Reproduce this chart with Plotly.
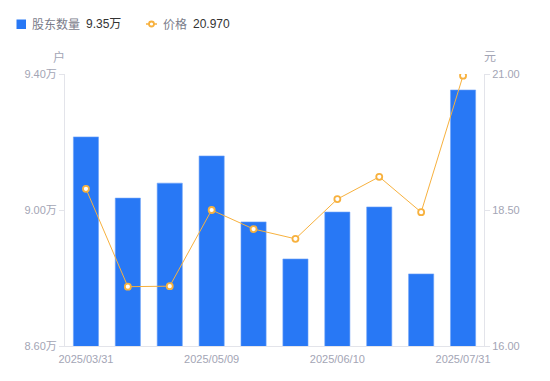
import plotly.graph_objects as go

dates = ["2025/03/31", "2025/04/10", "2025/04/30", "2025/05/09", "2025/05/20",
         "2025/05/30", "2025/06/10", "2025/06/20", "2025/06/30", "2025/07/31"]
holders_wan = [9.215, 9.035, 9.079, 9.159, 8.965, 8.856, 8.994, 9.009, 8.812, 9.353]
price = [18.89, 17.09, 17.10, 18.50, 18.15, 17.97, 18.70, 19.11, 18.46, 20.97]

left_ticks = [8.6, 9.0, 9.4]
left_ticktext = ["8.60万", "9.00万", "9.40万"]
right_ticks = [16.0, 18.5, 21.0]
right_ticktext = ["16.00", "18.50", "21.00"]
xtick_labels = ["2025/03/31", "2025/05/09", "2025/06/10", "2025/07/31"]

BLUE = "#2878f5"
ORANGE = "#f7b13e"
AXIS = "#e3e4ea"
TICKTXT = "#a3a5b5"
FONT = "Liberation Sans, Noto Sans CJK SC, sans-serif"

# plot area in page pixels: x 65..484, y 74..346
PL, PR, PT, PB = 65, 484, 74, 346
W, H = 550, 381

fig = go.Figure()
fig.add_trace(go.Bar(
    x=dates, y=holders_wan, marker=dict(color=BLUE, line=dict(color="#6ea2f8", width=0.6)),
    width=0.6, yaxis="y", showlegend=False, hoverinfo="skip"))
fig.add_trace(go.Scatter(
    x=dates, y=price, mode="lines+markers", yaxis="y2",
    line=dict(color=ORANGE, width=1),
    marker=dict(symbol="circle", size=6, color="white", line=dict(color=ORANGE, width=1.8)),
    showlegend=False, hoverinfo="skip"))

fig.update_layout(
    width=W, height=H,
    margin=dict(l=PL, r=W - PR, t=PT, b=H - PB),
    paper_bgcolor="white", plot_bgcolor="white",
    font=dict(family=FONT, size=11, color=TICKTXT),
    xaxis=dict(type="category", range=[-0.5, len(dates) - 0.5],
               tickmode="array", tickvals=xtick_labels, ticktext=xtick_labels,
               showgrid=False, showline=True, linecolor=AXIS, linewidth=1,
               ticks="outside", ticklen=3, tickcolor="rgba(0,0,0,0)",
               tickfont=dict(size=11, color=TICKTXT), zeroline=False),
    yaxis=dict(range=[8.6, 9.4], tickvals=left_ticks, ticktext=left_ticktext,
               showgrid=False, showline=True, linecolor=AXIS, linewidth=1,
               ticks="outside", ticklen=5, tickcolor=AXIS, tickfont=dict(size=11, color=TICKTXT),
               zeroline=False),
    yaxis2=dict(range=[16, 21], tickvals=right_ticks, ticktext=right_ticktext,
                overlaying="y", side="right",
                showgrid=False, showline=True, linecolor=AXIS, linewidth=1,
                ticks="outside", ticklen=5, tickcolor=AXIS, tickfont=dict(size=11, color=TICKTXT),
                zeroline=False),
    bargap=0.4,
)

# page-pixel -> paper (plot-domain) coords
def px_x(x):
    return (x - PL) / (PR - PL)
def px_y(y):
    return (PB - y) / (PB - PT)

fig.add_annotation(text="户", x=px_x(59), y=px_y(57), xref="paper", yref="paper",
                   xanchor="center", yanchor="middle", showarrow=False,
                   font=dict(size=12, color=TICKTXT))
fig.add_annotation(text="元", x=px_x(490), y=px_y(57), xref="paper", yref="paper",
                   xanchor="center", yanchor="middle", showarrow=False,
                   font=dict(size=12, color=TICKTXT))

# header legend with latest values
fig.add_shape(type="rect", xref="paper", yref="paper",
              x0=px_x(16.5), x1=px_x(26), y0=px_y(29), y1=px_y(19.5),
              fillcolor=BLUE, line=dict(width=0))
fig.add_annotation(text="股东数量", x=px_x(30), y=px_y(24), xref="paper", yref="paper",
                   xanchor="left", yanchor="middle", showarrow=False,
                   font=dict(size=12, color="#7a7c8a"))
fig.add_annotation(text=f"{holders_wan[-1]:.2f}万", x=px_x(84), y=px_y(24), xref="paper", yref="paper",
                   xanchor="left", yanchor="middle", showarrow=False,
                   font=dict(size=12, color="#333333"))
fig.add_shape(type="line", xref="paper", yref="paper",
              x0=px_x(146), x1=px_x(157), y0=px_y(24), y1=px_y(24),
              line=dict(color=ORANGE, width=1.5))
fig.add_shape(type="circle", xref="paper", yref="paper",
              x0=px_x(149), x1=px_x(154), y0=px_y(26.5), y1=px_y(21.5),
              fillcolor="white", line=dict(color=ORANGE, width=1.8))
fig.add_annotation(text="价格", x=px_x(161), y=px_y(24), xref="paper", yref="paper",
                   xanchor="left", yanchor="middle", showarrow=False,
                   font=dict(size=12, color="#7a7c8a"))
fig.add_annotation(text=f"{price[-1]:.3f}", x=px_x(191), y=px_y(24), xref="paper", yref="paper",
                   xanchor="left", yanchor="middle", showarrow=False,
                   font=dict(size=12, color="#333333"))

fig.write_html("out.html", config={"displayModeBar": False},
               post_script="document.body.style.margin='0px';")
